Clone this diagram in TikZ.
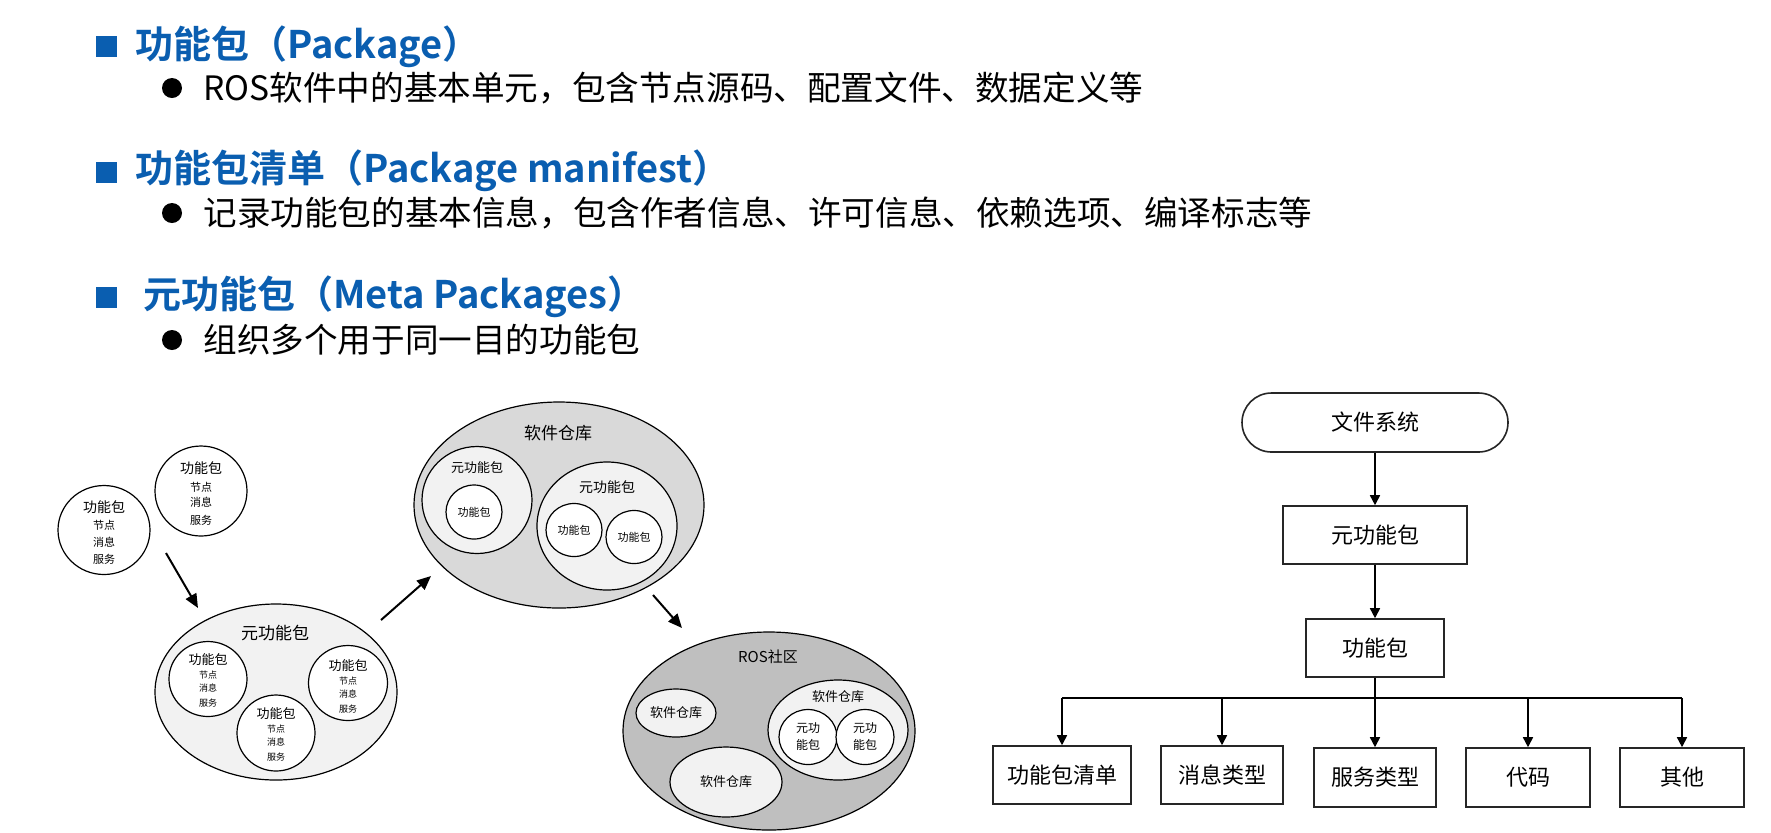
\documentclass[tikz,border=0pt]{standalone}
\usepackage{fontspec}
\setmainfont{Noto Sans CJK SC}[BoldFont={Noto Sans CJK SC Bold}]
\usetikzlibrary{arrows.meta,shapes.geometric}
\definecolor{titleblue}{RGB}{10,94,176}
\definecolor{gA}{RGB}{242,242,242}
\definecolor{gB}{RGB}{217,217,217}
\definecolor{gC}{RGB}{191,191,191}
\newcommand{\myfs}[1]{\fontsize{#1}{#1}\selectfont}
\begin{document}
\begin{tikzpicture}[x=0.5pt,y=-0.5pt,
  ell/.style={ellipse,draw=black,line width=0.6pt,inner sep=0pt,outer sep=0pt},
  txt/.style={inner sep=0pt,outer sep=0pt,anchor=center},
  ttl/.style={inner sep=0pt,anchor=west,text=titleblue,font=\myfs{19pt}\bfseries},
  sub/.style={inner sep=0pt,anchor=west,text=black,font=\myfs{16.8pt}},
  sq/.style={fill=titleblue,draw=none,minimum size=10.5pt,inner sep=0pt},
  dotb/.style={circle,fill=black,draw=none,minimum size=10pt,inner sep=0pt},
  bigarr/.style={line width=1pt,-{Triangle[length=7pt,width=6pt]}},
  fbox/.style={rectangle,draw=black!85,line width=0.8pt,inner sep=0pt,minimum height=29pt,font=\myfs{11pt}},
  farr/.style={line width=0.8pt,-{Triangle[length=5pt,width=5pt]}},
  fline/.style={line width=0.8pt}]
\useasboundingbox (0,0) rectangle (1771,832);
\fill[white] (0,0) rectangle (1771,832);

% ---------- header ----------
\node[sq] (s1) at (106,46) {};
\node[ttl] (h1) at (135,47) {功能包（Package）};
\node[dotb] (d1) at (172,88) {};
\node[sub] (t1) at (203,88) {ROS软件中的基本单元，包含节点源码、配置文件、数据定义等};

\node[sq] (s2) at (106,172) {};
\node[ttl] (h2) at (135,171) {功能包清单（Package manifest）};
\node[dotb] (d2) at (172,213) {};
\node[sub] (t2) at (203,213) {记录功能包的基本信息，包含作者信息、许可信息、依赖选项、编译标志等};

\node[sq] (s3) at (106,297) {};
\node[ttl] (h3) at (143,297) {元功能包（Meta Packages）};
\node[dotb] (d3) at (172,340) {};
\node[sub] (t3) at (203,340) {组织多个用于同一目的功能包};

% ---------- left: standalone packages ----------
\node[ell,fill=white,minimum width=46pt,minimum height=44.5pt] (c1) at (104,530) {};
\node[txt,font=\myfs{7pt}] (c1a) at (104,507) {功能包};
\node[txt,font=\myfs{5.5pt}] (c1b) at (104,525) {节点};
\node[txt,font=\myfs{5.5pt}] (c1c) at (104,542) {消息};
\node[txt,font=\myfs{5.5pt}] (c1d) at (104,559) {服务};

\node[ell,fill=white,minimum width=46pt,minimum height=45pt] (c2) at (201,491) {};
\node[txt,font=\myfs{7pt}] (c2a) at (201,468) {功能包};
\node[txt,font=\myfs{5.5pt}] (c2b) at (201,487) {节点};
\node[txt,font=\myfs{5.5pt}] (c2c) at (201,502) {消息};
\node[txt,font=\myfs{5.5pt}] (c2d) at (201,520) {服务};

% ---------- meta package ----------
\node[ell,fill=gA,minimum width=121pt,minimum height=88pt] (m1) at (276,692) {};
\node[txt,font=\myfs{8.5pt}] (m1t) at (275,633) {元功能包};
\node[ell,fill=white,minimum width=39pt,minimum height=37.5pt] (ma) at (208,679) {};
\node[txt,font=\myfs{6.5pt}] (maa) at (208,660) {功能包};
\node[txt,font=\myfs{4.5pt}] (mab) at (208,675) {节点};
\node[txt,font=\myfs{4.5pt}] (mac) at (208,688) {消息};
\node[txt,font=\myfs{4.5pt}] (mad) at (208,703) {服务};
\node[ell,fill=white,minimum width=39.5pt,minimum height=37.5pt] (mb) at (348,683) {};
\node[txt,font=\myfs{6.5pt}] (mba) at (348,666) {功能包};
\node[txt,font=\myfs{4.5pt}] (mbb) at (348,681) {节点};
\node[txt,font=\myfs{4.5pt}] (mbc) at (348,694) {消息};
\node[txt,font=\myfs{4.5pt}] (mbd) at (348,709) {服务};
\node[ell,fill=white,minimum width=39pt,minimum height=38pt] (mc) at (276,733) {};
\node[txt,font=\myfs{6.5pt}] (mca) at (276,714) {功能包};
\node[txt,font=\myfs{4.5pt}] (mcb) at (276,729) {节点};
\node[txt,font=\myfs{4.5pt}] (mcc) at (276,742) {消息};
\node[txt,font=\myfs{4.5pt}] (mcd) at (276,757) {服务};

% ---------- repository ----------
\node[ell,fill=gB,minimum width=145pt,minimum height=103pt] (r1) at (559,505) {};
\node[txt,font=\myfs{8.5pt}] (r1t) at (558,433) {软件仓库};
\node[ell,fill=gA,minimum width=55pt,minimum height=53.5pt] (ra) at (477,500) {};
\node[txt,font=\myfs{6.5pt}] (rat) at (477,468) {元功能包};
\node[ell,fill=white,minimum width=28pt,minimum height=27pt] (rap) at (474,512) {};
\node[txt,font=\myfs{5.5pt}] (rapt) at (474,512) {功能包};
\node[ell,fill=gA,minimum width=70pt,minimum height=64pt] (rb) at (607,526) {};
\node[txt,font=\myfs{7pt}] (rbt) at (607,487) {元功能包};
\node[ell,fill=white,minimum width=28pt,minimum height=26.5pt] (rbp1) at (574,530) {};
\node[txt,font=\myfs{5.5pt}] (rbp1t) at (574,530) {功能包};
\node[ell,fill=white,minimum width=28pt,minimum height=26.5pt] (rbp2) at (634,537) {};
\node[txt,font=\myfs{5.5pt}] (rbp2t) at (634,537) {功能包};

% ---------- ROS community ----------
\node[ell,fill=gC,minimum width=146pt,minimum height=99pt] (ros) at (769,731) {};
\node[txt,font=\myfs{7.5pt}] (rost) at (768,657) {ROS社区};
\node[ell,fill=gA,minimum width=40pt,minimum height=24pt] (q1) at (676,713) {};
\node[txt,font=\myfs{6.5pt}] (q1t) at (676,713) {软件仓库};
\node[ell,fill=gA,minimum width=56pt,minimum height=35pt] (q2) at (726,782) {};
\node[txt,font=\myfs{6.5pt}] (q2t) at (726,782) {软件仓库};
\node[ell,fill=gA,minimum width=70pt,minimum height=50pt] (q3) at (838,730) {};
\node[txt,font=\myfs{6.5pt}] (q3t) at (838,697) {软件仓库};
\node[ell,fill=white,minimum width=29pt,minimum height=27.5pt] (q3a) at (808,737) {};
\node[txt,font=\myfs{6pt}] (q3a1) at (808,728) {元功};
\node[txt,font=\myfs{6pt}] (q3a2) at (808,745) {能包};
\node[ell,fill=white,minimum width=29pt,minimum height=27.5pt] (q3b) at (865,737) {};
\node[txt,font=\myfs{6pt}] (q3b1) at (865,728) {元功};
\node[txt,font=\myfs{6pt}] (q3b2) at (865,745) {能包};

% ---------- left arrows ----------
\coordinate (a1s) at (166,553); \coordinate (a1e) at (198,608);
\coordinate (a2s) at (381,620); \coordinate (a2e) at (431,576);
\coordinate (a3s) at (653,595); \coordinate (a3e) at (682,628);
\draw[bigarr] (a1s) -- (a1e);
\draw[bigarr] (a2s) -- (a2e);
\draw[bigarr] (a3s) -- (a3e);

% ---------- right: file system tree ----------
\node[fbox,rounded corners=14.75pt,minimum width=133pt,minimum height=29.5pt] (fs) at (1375,422.5) {文件系统};
\node[fbox,minimum width=92pt] (mp) at (1375,535) {元功能包};
\node[fbox,minimum width=69pt] (pk) at (1375,648) {功能包};
\node[fbox,minimum width=69pt] (b1) at (1062,775) {功能包清单};
\node[fbox,minimum width=61pt] (b2) at (1222,775) {消息类型};
\node[fbox,minimum width=61pt,minimum height=29.5pt] (b3) at (1375,777.5) {服务类型};
\node[fbox,minimum width=62pt,minimum height=29.5pt] (b4) at (1528,777.5) {代码};
\node[fbox,minimum width=62pt,minimum height=29.5pt] (b5) at (1682,777.5) {其他};
\coordinate (bus) at (1375,698);

\draw[farr] (fs) -- (mp);
\draw[farr] (mp) -- (pk);
\draw[farr] (pk) -- (b3);
\draw[fline] (b1 |- bus) -- (b5 |- bus);
\draw[farr] (b1 |- bus) -- (b1.north);
\draw[farr] (b2 |- bus) -- (b2.north);
\draw[farr] (b4 |- bus) -- (b4.north);
\draw[farr] (b5 |- bus) -- (b5.north);
\end{tikzpicture}
\end{document}
